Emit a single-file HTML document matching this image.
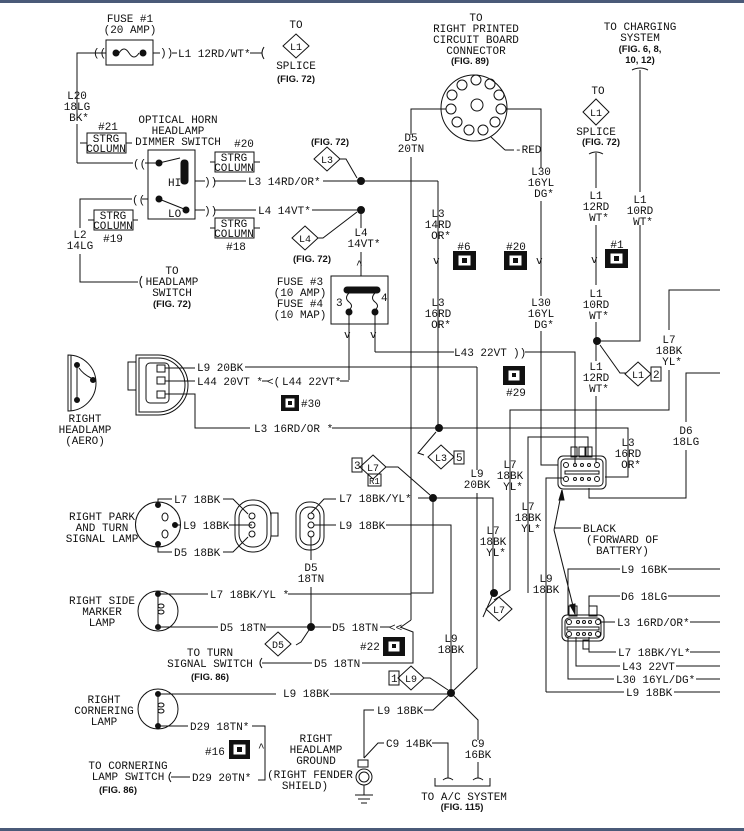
<!DOCTYPE html>
<html><head><meta charset="utf-8"><style>
html,body{margin:0;padding:0;background:#fff;}
svg{display:block}
text{font-family:"Liberation Mono",monospace;font-size:11px;fill:#111;}
.b{font-family:"Liberation Sans",sans-serif;font-weight:bold;font-size:9.5px;}
.m{text-anchor:middle}
line,polyline,path,rect,circle,polygon,ellipse{stroke:#111;stroke-width:1;fill:none}
.d{fill:#111}
.k{fill:#111;stroke:none}
</style></head><body>
<svg width="744" height="831" viewBox="0 0 744 831" xmlns="http://www.w3.org/2000/svg">
<rect x="0" y="0" width="744" height="3" class="k" style="fill:#4a5a78"/>
<rect x="0" y="828" width="744" height="3" class="k" style="fill:#4a5a78"/>

<!-- Fuse 1 -->
<text x="130" y="22" class="m">FUSE #1</text>
<text x="130" y="33" class="m">(20 AMP)</text>
<rect x="106" y="40" width="47" height="25"/>
<circle cx="116" cy="53" r="3" class="d"/><circle cx="143" cy="53" r="3" class="d"/>
<path d="M119 53 q5 -8 10 0 q5 8 10 0"/>
<polyline points="77,120 77,53 92,53"/><text x="93" y="56">((</text>
<line x1="92" y1="53" x2="106" y2="53"/>
<line x1="153" y1="53" x2="160" y2="53"/><text x="160" y="56">))</text>
<line x1="172" y1="53" x2="177" y2="53"/>
<text x="178" y="57">L1 12RD/WT*</text>
<line x1="250" y1="53" x2="262" y2="53"/><path d="M264 47 q-4 6 0 12"/>
<text x="296" y="28" class="m">TO</text>
<polygon points="296,34 309,46 296,58 283,46"/><text x="296" y="50" class="m" style="font-size:10px">L1</text>
<text x="296" y="69" class="m">SPLICE</text>
<text x="296" y="82" class="m b">(FIG. 72)</text>

<text x="77" y="99" class="m">L20</text><text x="77" y="110" class="m">18LG</text><text x="79" y="121" class="m">BK*</text>
<line x1="77" y1="124" x2="77" y2="163"/>
<polyline points="77,163 133,163"/><text x="133" y="167">((</text><line x1="145" y1="163" x2="160" y2="163"/>
<text x="108" y="130" class="m">#21</text>
<rect x="87" y="133" width="39" height="20"/><text x="106" y="142" class="m">STRG</text><text x="106" y="152" class="m">COLUMN</text>
<line x1="80" y1="143" x2="87" y2="143"/><line x1="126" y1="143" x2="132" y2="143"/>

<text x="178" y="123" class="m">OPTICAL HORN</text>
<text x="178" y="134" class="m">HEADLAMP</text>
<text x="178" y="145" class="m">DIMMER SWITCH</text>
<rect x="148" y="150" width="47" height="69"/>
<circle cx="159" cy="163" r="3" class="d"/><line x1="159" y1="163" x2="180" y2="158"/>
<rect x="181" y="160" width="7" height="24" rx="3" class="d"/>
<text x="168" y="186">HI</text>
<circle cx="159" cy="199" r="3" class="d"/><line x1="159" y1="199" x2="184" y2="209"/>
<circle cx="186" cy="210" r="3" class="d"/><text x="168" y="217">LO</text>
<line x1="195" y1="181" x2="205" y2="181"/><text x="204" y="185">))</text>
<line x1="214" y1="181" x2="246" y2="181"/><text x="248" y="185">L3 14RD/OR*</text>
<line x1="323" y1="181" x2="360" y2="181"/>
<line x1="195" y1="210" x2="205" y2="210"/><text x="204" y="214">))</text>
<line x1="214" y1="210" x2="256" y2="210"/><text x="258" y="214">L4 14VT*</text>
<line x1="312" y1="210" x2="360" y2="210"/>
<text x="244" y="147" class="m">#20</text>
<rect x="215" y="152" width="39" height="20"/><text x="234" y="161" class="m">STRG</text><text x="234" y="171" class="m">COLUMN</text>
<line x1="210" y1="162" x2="215" y2="162"/><line x1="254" y1="162" x2="260" y2="162"/>
<rect x="215" y="218" width="39" height="20"/><text x="234" y="227" class="m">STRG</text><text x="234" y="237" class="m">COLUMN</text>
<line x1="210" y1="228" x2="215" y2="228"/><line x1="254" y1="228" x2="260" y2="228"/>
<text x="236" y="250" class="m">#18</text>

<polyline points="148,199 142,199"/><text x="132" y="203">((</text>
<polyline points="132,199 80,199 80,228"/>
<rect x="94" y="210" width="39" height="20"/><text x="113" y="219" class="m">STRG</text><text x="113" y="229" class="m">COLUMN</text>
<line x1="88" y1="220" x2="94" y2="220"/><line x1="133" y1="220" x2="138" y2="220"/>
<text x="113" y="242" class="m">#19</text>
<text x="80" y="238" class="m">L2</text><text x="80" y="249" class="m">14LG</text>
<polyline points="80,254 80,282 138,282"/><path d="M142 276 q-4 6 0 12"/>
<text x="172" y="274" class="m">TO</text><text x="172" y="285" class="m">HEADLAMP</text><text x="172" y="296" class="m">SWITCH</text>
<text x="172" y="307" class="m b">(FIG. 72)</text>

<text x="330" y="145" class="m b">(FIG. 72)</text>
<polygon points="327,147 340,159 327,171 314,159"/><text x="327" y="163" class="m" style="font-size:10px">L3</text>
<polyline points="340,159 346,159 357,178"/>
<circle cx="361" cy="181" r="3.5" class="d"/>
<line x1="361" y1="181" x2="438" y2="181"/><line x1="438" y1="181" x2="438" y2="428"/>
<polygon points="305,226 318,238 305,250 292,238"/><text x="305" y="242" class="m" style="font-size:10px">L4</text>
<polyline points="318,238 323,238 357,212"/>
<circle cx="361" cy="210" r="3.5" class="d"/>
<text x="312" y="262" class="m b">(FIG. 72)</text>
<line x1="361" y1="210" x2="361" y2="228"/>
<text x="361" y="236" class="m">L4</text><text x="364" y="247" class="m">14VT*</text>
<line x1="361" y1="252" x2="361" y2="276"/><text x="356" y="268">^</text>

<text x="300" y="285" class="m">FUSE #3</text><text x="300" y="296" class="m">(10 AMP)</text>
<text x="300" y="307" class="m">FUSE #4</text><text x="300" y="318" class="m">(10 MAP)</text>
<rect x="331" y="276" width="57" height="48"/>
<rect x="344" y="287" width="36" height="6" rx="3" class="d"/>
<path d="M349 293 q-5 5 0 9 q5 4 0 8"/><path d="M375 293 q-5 5 0 9 q5 4 0 8"/>
<circle cx="349" cy="312" r="3" class="d"/><circle cx="375" cy="312" r="3" class="d"/>
<text x="336" y="306">3</text><text x="381" y="301">4</text>
<line x1="349" y1="312" x2="349" y2="380"/><text x="344" y="338">v</text>
<line x1="375" y1="312" x2="375" y2="352"/><text x="370" y="338">v</text>
<line x1="375" y1="352" x2="454" y2="352"/><text x="454" y="356">L43 22VT</text>
<text x="513" y="356">))</text><polyline points="525,352 575,352 575,463"/>

<path d="M68 355 a28 28 0 0 1 0 56 z"/>
<line x1="71" y1="355" x2="71" y2="411"/>
<circle cx="77" cy="365" r="2.5" class="d"/><circle cx="77" cy="400" r="2.5" class="d"/><circle cx="93" cy="380" r="2.5" class="d"/>
<path d="M77 365 l0 35 M79 368 q4 6 12 10"/>
<text x="85" y="422" class="m">RIGHT</text><text x="85" y="433" class="m">HEADLAMP</text><text x="85" y="444" class="m">(AERO)</text>
<path d="M136 355 h22 a30 30 0 0 1 0 60 h-22 z"/>
<path d="M139 358 h19 a27 27 0 0 1 0 54 h-19 z"/>
<rect x="128" y="362" width="8" height="28"/>
<rect x="146" y="363" width="23" height="40" rx="4"/>
<rect x="157" y="365" width="8" height="7"/><rect x="157" y="377" width="8" height="7"/><rect x="157" y="391" width="8" height="7"/>
<line x1="165" y1="368" x2="195" y2="368"/><line x1="165" y1="381" x2="195" y2="381"/>
<polyline points="165,394 195,394 195,428 250,428"/>
<text x="197" y="371">L9 20BK</text><line x1="245" y1="367" x2="477" y2="367"/>
<text x="197" y="385">L44 20VT *</text><line x1="262" y1="381" x2="268" y2="381"/><text x="267" y="385">&lt;(</text>
<text x="282" y="385">L44 22VT*</text><polyline points="340,381 349,381"/>
<rect x="281" y="395" width="18" height="16" class="k"/><rect x="286" y="399" width="8" height="8" style="stroke:#fff;fill:#fff"/><rect x="288" y="401" width="4" height="4" class="k"/>
<text x="301" y="407">#30</text>
<text x="254" y="432">L3 16RD/OR *</text><line x1="332" y1="428" x2="438" y2="428"/>
<circle cx="439" cy="428" r="3.5" class="d"/>
<polyline points="439,428 628,428 628,477 605,477"/>
<polyline points="436,432 418,453 424,455"/>
<polygon points="441,445 454,457 441,469 428,457"/><text x="441" y="461" class="m" style="font-size:10px">L3</text>
<rect x="454" y="451" width="10" height="13"/><text x="456" y="461">5</text>

<text x="476" y="21" class="m">TO</text><text x="476" y="32" class="m">RIGHT PRINTED</text>
<text x="476" y="43" class="m">CIRCUIT BOARD</text><text x="476" y="54" class="m">CONNECTOR</text>
<text x="470" y="64" class="m b">(FIG. 89)</text>
<circle cx="474" cy="108" r="33"/>
<g>
<circle cx="476" cy="80" r="5"/><circle cx="462" cy="85" r="5"/><circle cx="490" cy="84" r="5"/><circle cx="452" cy="95" r="5"/><circle cx="499" cy="95" r="5"/>
<circle cx="451" cy="109" r="5"/><circle cx="501" cy="109" r="5"/><circle cx="457" cy="122" r="5"/><circle cx="495" cy="122" r="5"/><circle cx="469" cy="130" r="5"/><circle cx="483" cy="130" r="5"/>
<circle cx="477" cy="105" r="6"/>
</g>
<line x1="491" y1="137" x2="505" y2="150" /><text x="515" y="153">-RED</text><line x1="505" y1="150" x2="514" y2="150"/>
<polyline points="446,109 411,109 411,135"/><text x="411" y="141" class="m">D5</text><text x="411" y="152" class="m">20TN</text>
<line x1="411" y1="157" x2="411" y2="620"/>
<polyline points="506,109 541,109 541,168"/>
<text x="541" y="175" class="m">L30</text><text x="541" y="186" class="m">16YL</text><text x="544" y="197" class="m">DG*</text>
<line x1="541" y1="201" x2="541" y2="296"/><text x="536" y="264">v</text>
<text x="541" y="306" class="m">L30</text><text x="541" y="317" class="m">16YL</text><text x="544" y="328" class="m">DG*</text>
<polyline points="541,331 541,465 558,465"/>
<text x="438" y="217" class="m">L3</text><text x="438" y="228" class="m">14RD</text><text x="441" y="239" class="m">OR*</text>
<text x="433" y="264">v</text>
<text x="438" y="306" class="m">L3</text><text x="438" y="317" class="m">16RD</text><text x="441" y="328" class="m">OR*</text>
<g>
<text x="464" y="250" class="m">#6</text><rect x="453" y="251" width="23" height="19" class="k"/><rect x="459" y="256" width="11" height="9" style="stroke:#fff;fill:#fff"/><rect x="462" y="258" width="5" height="5" class="k"/>
<text x="516" y="250" class="m">#20</text><rect x="504" y="251" width="23" height="19" class="k"/><rect x="510" y="256" width="11" height="9" style="stroke:#fff;fill:#fff"/><rect x="513" y="258" width="5" height="5" class="k"/>
<text x="617" y="248" class="m">#1</text><rect x="605" y="249" width="23" height="19" class="k"/><rect x="611" y="254" width="11" height="9" style="stroke:#fff;fill:#fff"/><rect x="614" y="256" width="5" height="5" class="k"/>
<rect x="503" y="366" width="22" height="19" class="k"/><rect x="509" y="371" width="10" height="9" style="stroke:#fff;fill:#fff"/><rect x="512" y="373" width="4" height="4" class="k"/>
<text x="516" y="396" class="m">#29</text>
</g>

<text x="598" y="94" class="m">TO</text>
<polygon points="596,99 609,112 596,125 583,112"/><text x="596" y="116" class="m" style="font-size:10px">L1</text>
<text x="596" y="135" class="m">SPLICE</text><text x="601" y="145" class="m b">(FIG. 72)</text>
<path d="M589 154 q7 -4 14 0"/><line x1="596" y1="153" x2="596" y2="188"/>
<text x="596" y="199" class="m">L1</text><text x="596" y="210" class="m">12RD</text><text x="599" y="221" class="m">WT*</text>
<line x1="596" y1="225" x2="596" y2="285"/><text x="591" y="263">v</text>
<text x="596" y="297" class="m">L1</text><text x="596" y="308" class="m">10RD</text><text x="599" y="319" class="m">WT*</text>
<line x1="596" y1="322" x2="596" y2="361"/>
<circle cx="597" cy="341" r="3.5" class="d"/>
<polyline points="597,341 640,341 640,225"/>
<text x="640" y="30" class="m">TO CHARGING</text><text x="640" y="41" class="m">SYSTEM</text>
<text x="640" y="52" class="m b">(FIG. 6, 8,</text><text x="640" y="63" class="m b">10, 12)</text>
<path d="M632 70 q8 -4 16 0"/><line x1="640" y1="70" x2="640" y2="192"/>
<text x="640" y="203" class="m">L1</text><text x="640" y="214" class="m">10RD</text><text x="643" y="225" class="m">WT*</text>
<polyline points="600,345 620,373 626,373"/>
<polygon points="638,362 651,374 638,386 625,374"/><text x="638" y="378" class="m" style="font-size:10px">L1</text>
<rect x="651" y="367" width="10" height="14"/><text x="653" y="378">2</text>
<text x="596" y="370" class="m">L1</text><text x="596" y="381" class="m">12RD</text><text x="599" y="392" class="m">WT*</text>
<line x1="596" y1="396" x2="596" y2="463"/>
<polyline points="669,330 669,290 720,290"/>
<text x="669" y="343" class="m">L7</text><text x="669" y="354" class="m">18BK</text><text x="672" y="365" class="m">YL*</text>
<polyline points="669,370 669,410 510,410 510,590 494,600"/>
<polyline points="720,373 686,373 686,422"/>
<text x="686" y="434" class="m">D6</text><text x="686" y="445" class="m">18LG</text>
<polyline points="686,450 686,498 589,498 589,488"/>
<text x="628" y="446" class="m">L3</text><text x="628" y="457" class="m">16RD</text><text x="631" y="468" class="m">OR*</text>

<rect x="558" y="456" width="48" height="33" rx="5"/>
<rect x="561" y="459" width="42" height="27" rx="4"/>
<rect x="571" y="447" width="6" height="10"/><rect x="579" y="447" width="6" height="10"/><rect x="586" y="447" width="6" height="10"/>
<circle cx="566" cy="465" r="2.5"/><circle cx="575" cy="465" r="1.5"/><circle cx="582" cy="465" r="1.5"/><circle cx="589" cy="465" r="1.5"/><circle cx="597" cy="465" r="2.5"/>
<rect x="565" y="471" width="34" height="3"/>
<circle cx="566" cy="479" r="2.5"/><circle cx="575" cy="479" r="1.5"/><circle cx="582" cy="479" r="1.5"/><circle cx="589" cy="479" r="1.5"/><circle cx="597" cy="479" r="2.5"/>
<polyline points="546,692 546,478 563,478"/>
<polyline points="528,593 528,437 588,437 588,457"/>
<line x1="554" y1="530" x2="562" y2="490"/><line x1="554" y1="530" x2="575" y2="614"/>
<polygon points="562,490 559,500 564,500" class="d"/><polygon points="575,614 570,605 575,604" class="d"/>
<line x1="554" y1="528" x2="581" y2="528"/>
<text x="583" y="532">BLACK</text><text x="586" y="543">(FORWARD OF</text><text x="596" y="554">BATTERY)</text>
<text x="510" y="468" class="m">L7</text><text x="510" y="479" class="m">18BK</text><text x="513" y="490" class="m">YL*</text>
<text x="528" y="510" class="m">L7</text><text x="528" y="521" class="m">18BK</text><text x="531" y="532" class="m">YL*</text>
<text x="546" y="582" class="m">L9</text><text x="546" y="593" class="m">18BK</text>

<rect x="562" y="615" width="42" height="26" rx="5"/><rect x="565" y="618" width="36" height="20" rx="4"/>
<rect x="569" y="606" width="8" height="10"/><rect x="589" y="606" width="8" height="10"/><rect x="583" y="640" width="6" height="9"/>
<circle cx="569" cy="622" r="2.5"/><circle cx="578" cy="622" r="1.5"/><circle cx="584" cy="622" r="1.5"/><circle cx="590" cy="622" r="1.5"/><circle cx="598" cy="622" r="2.5"/>
<rect x="567" y="627" width="32" height="3"/>
<circle cx="569" cy="634" r="2.5"/><circle cx="578" cy="634" r="1.5"/><circle cx="584" cy="634" r="1.5"/><circle cx="590" cy="634" r="1.5"/><circle cx="598" cy="634" r="2.5"/>
<polyline points="568,615 568,569 620,569"/><text x="621" y="573">L9 16BK</text><line x1="668" y1="569" x2="720" y2="569"/>
<polyline points="589,607 589,596 620,596"/><text x="621" y="600">D6 18LG</text><line x1="668" y1="596" x2="720" y2="596"/>
<line x1="601" y1="622" x2="615" y2="622"/><text x="617" y="626">L3 16RD/OR*</text><line x1="690" y1="622" x2="720" y2="622"/>
<polyline points="589,637 589,652 616,652"/><text x="618" y="656">L7 18BK/YL*</text><line x1="690" y1="652" x2="720" y2="652"/>
<polyline points="576,637 576,666 620,666"/><text x="622" y="670">L43 22VT</text><line x1="676" y1="666" x2="720" y2="666"/>
<polyline points="568,637 568,679 614,679"/><text x="616" y="683">L30 16YL/DG*</text><line x1="696" y1="679" x2="720" y2="679"/>
<polyline points="546,692 624,692"/><text x="626" y="696">L9 18BK</text><line x1="674" y1="692" x2="720" y2="692"/>

<rect x="352" y="458" width="10" height="14"/><text x="354" y="469">3</text>
<polygon points="373,455 386,467 373,479 360,467"/><text x="373" y="471" class="m" style="font-size:10px">L7</text>
<rect x="368" y="474" width="13" height="12"/><text x="369" y="484" style="font-size:9px">R1</text>
<polyline points="386,467 398,467 430,495"/>
<circle cx="433" cy="498" r="3.5" class="d"/>
<text x="339" y="502">L7 18BK/YL*</text><line x1="418" y1="498" x2="433" y2="498"/>
<polyline points="433,498 493,498 493,593"/>
<polyline points="433,498 433,593 411,593"/>
<text x="477" y="477" class="m">L9</text><text x="477" y="488" class="m">20BK</text>
<polyline points="477,367 477,470"/><polyline points="477,493 477,668 451,693"/>
<text x="493" y="534" class="m">L7</text><text x="493" y="545" class="m">18BK</text><text x="496" y="556" class="m">YL*</text>
<circle cx="494" cy="593" r="3.5" class="d"/>
<polyline points="493,593 491,599 483,617"/>
<polygon points="499,597 512,609 499,621 486,609"/><text x="499" y="613" class="m" style="font-size:10px">L7</text>

<text x="102" y="520" class="m">RIGHT PARK</text><text x="102" y="531" class="m">AND TURN</text><text x="102" y="542" class="m">SIGNAL LAMP</text>
<path d="M158 502 a20 20 0 1 1 0 45 a20 20 0 0 1 0 -45"/>
<circle cx="158" cy="505" r="2.5" class="d"/><circle cx="158" cy="544" r="2.5" class="d"/><circle cx="175" cy="525" r="2.5" class="d"/>
<polyline points="158,505 158,499 172,499"/><text x="174" y="503">L7 18BK</text><polyline points="223,499 233,499 248,514"/>
<line x1="175" y1="525" x2="181" y2="525"/><text x="183" y="529">L9 18BK</text><line x1="229" y1="525" x2="252" y2="525"/>
<polyline points="158,544 158,552 172,552"/><text x="174" y="556">D5 18BK</text><polyline points="223,552 233,552 248,537"/>
<ellipse cx="165" cy="517" rx="3" ry="4"/><ellipse cx="165" cy="534" rx="3" ry="4"/>
<rect x="235" y="500" width="36" height="52" rx="17"/><rect x="239" y="505" width="28" height="42" rx="13"/>
<rect x="271" y="513" width="7" height="23"/>
<circle cx="252" cy="516" r="3"/><circle cx="252" cy="525" r="3"/><circle cx="252" cy="534" r="3"/>
<rect x="296" y="502" width="28" height="48" rx="13"/><rect x="300" y="507" width="20" height="38" rx="9"/>
<circle cx="311" cy="516" r="3"/><circle cx="311" cy="525" r="3"/><circle cx="311" cy="534" r="3"/>
<polyline points="311,513 324,499 336,499"/><line x1="314" y1="525" x2="336" y2="525"/>
<text x="339" y="529">L9 18BK</text><polyline points="386,525 451,525 451,693"/>
<line x1="311" y1="537" x2="311" y2="560"/>
<text x="311" y="571" class="m">D5</text><text x="311" y="582" class="m">18TN</text>

<text x="102" y="604" class="m">RIGHT SIDE</text><text x="102" y="615" class="m">MARKER</text><text x="102" y="626" class="m">LAMP</text>
<circle cx="158" cy="611" r="20"/>
<circle cx="158" cy="594" r="2.5" class="d"/><circle cx="158" cy="627" r="2.5" class="d"/>
<line x1="158" y1="594" x2="158" y2="627"/><ellipse cx="161" cy="606" rx="3" ry="2"/><ellipse cx="161" cy="612" rx="3" ry="2"/>
<line x1="158" y1="594" x2="208" y2="594"/><text x="210" y="598">L7 18BK/YL *</text><line x1="288" y1="594" x2="411" y2="594"/>
<line x1="158" y1="627" x2="218" y2="627"/><text x="220" y="631">D5 18TN</text><line x1="266" y1="627" x2="331" y2="627"/>
<line x1="311" y1="587" x2="311" y2="627"/>
<circle cx="311" cy="627" r="3.5" class="d"/>
<text x="332" y="631">D5 18TN</text><line x1="380" y1="627" x2="390" y2="627"/><text x="389" y="631">&lt;&lt;</text>
<polyline points="401,627 411,620"/>
<polyline points="309,630 301,642 296,645"/>
<polygon points="278,632 291,644 278,656 265,644"/><text x="278" y="648" class="m" style="font-size:10px">D5</text>
<text x="210" y="656" class="m">TO TURN</text><text x="210" y="667" class="m">SIGNAL SWITCH</text>
<text x="210" y="680" class="m b">(FIG. 86)</text>
<path d="M262 658 q-4 5 0 10"/><line x1="262" y1="663" x2="312" y2="663"/>
<text x="314" y="667">D5 18TN</text><polyline points="362,663 413,663 413,632 400,627"/>
<text x="360" y="650">#22</text><rect x="383" y="637" width="22" height="19" class="k"/><rect x="389" y="642" width="10" height="9" style="stroke:#fff;fill:#fff"/><rect x="392" y="644" width="4" height="4" class="k"/>
<text x="451" y="642" class="m">L9</text><text x="451" y="653" class="m">18BK</text>

<text x="104" y="703" class="m">RIGHT</text><text x="104" y="714" class="m">CORNERING</text><text x="104" y="725" class="m">LAMP</text>
<circle cx="158" cy="709" r="20"/>
<circle cx="158" cy="694" r="2.5" class="d"/><circle cx="158" cy="726" r="2.5" class="d"/>
<line x1="158" y1="694" x2="158" y2="726"/><ellipse cx="161" cy="705" rx="3" ry="2"/><ellipse cx="161" cy="711" rx="3" ry="2"/>
<line x1="158" y1="694" x2="276" y2="694"/><text x="283" y="697">L9 18BK</text><line x1="330" y1="694" x2="451" y2="694"/>
<polyline points="158,726 188,726"/><text x="190" y="730">D29 18TN*</text><polyline points="252,726 265,726 265,780 258,780"/>
<text x="258" y="751">^</text>
<text x="205" y="755">#16</text><rect x="229" y="740" width="21" height="19" class="k"/><rect x="234" y="745" width="11" height="9" style="stroke:#fff;fill:#fff"/><rect x="237" y="747" width="5" height="5" class="k"/>
<text x="128" y="769" class="m">TO CORNERING</text><text x="128" y="780" class="m">LAMP SWITCH</text>
<text x="118" y="793" class="m b">(FIG. 86)</text>
<path d="M171 772 q-4 5 0 10"/><line x1="171" y1="777" x2="190" y2="777"/>
<text x="192" y="781">D29 20TN*</text>

<text x="316" y="742" class="m">RIGHT</text><text x="316" y="753" class="m">HEADLAMP</text><text x="316" y="764" class="m">GROUND</text>
<text x="310" y="778" class="m">(RIGHT FENDER</text><text x="305" y="789" class="m">SHIELD)</text>

<rect x="389" y="671" width="10" height="14"/><text x="391" y="682">1</text>
<polygon points="411,666 424,678 411,690 398,678"/><text x="411" y="682" class="m" style="font-size:10px">L9</text>
<polyline points="424,678 430,678 448,690"/>
<circle cx="451" cy="693" r="3.5" class="d"/>
<polyline points="451,693 433,710 424,710"/><text x="377" y="714">L9 18BK</text>
<polyline points="374,710 364,710 364,758"/>
<polyline points="451,693 478,720 478,740"/>
<text x="478" y="747" class="m">C9</text><text x="478" y="758" class="m">16BK</text>
<line x1="478" y1="762" x2="478" y2="778"/>
<polyline points="364,758 378,743 384,743"/><text x="386" y="747">C9 14BK</text>
<polyline points="432,743 448,743 448,778"/>
<rect x="358" y="760" width="10" height="7"/><circle cx="364" cy="777" r="8"/><circle cx="364" cy="777" r="5"/>
<line x1="364" y1="785" x2="364" y2="795"/>
<line x1="355" y1="795" x2="373" y2="795"/><line x1="358" y1="799" x2="370" y2="799"/><line x1="361" y1="803" x2="367" y2="803"/>
<polyline points="435,778 435,786 490,786 490,778"/>
<path d="M443 780 q5 -4 10 0 M473 780 q5 -4 10 0"/>
<text x="464" y="800" class="m">TO A/C SYSTEM</text>
<text x="462" y="810" class="m b">(FIG. 115)</text>
</svg>
</body></html>
